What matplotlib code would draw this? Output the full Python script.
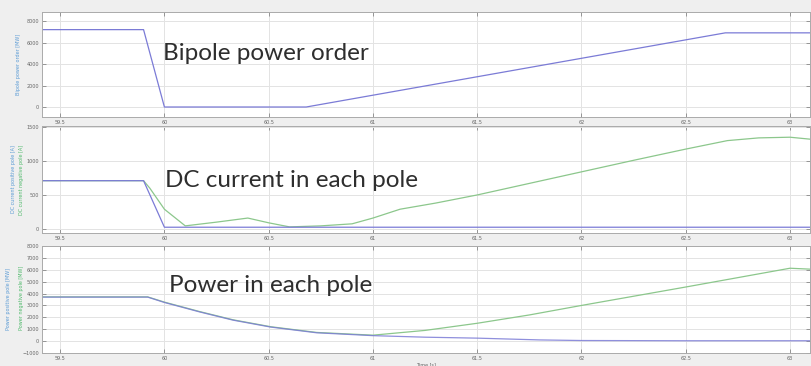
import numpy as np
import matplotlib.pyplot as plt

# --- data ---
order_t = [59.41, 59.90, 60.00, 60.68, 62.69, 63.10]
order_mw = [7200, 7200, 0, 0, 6900, 6900]

ipos_t = [59.41, 59.90, 60.00, 63.10]
ipos_a = [710, 710, 25, 25]
ineg_t = [59.41, 59.90, 59.93, 60.00, 60.10, 60.25, 60.40, 60.50, 60.60, 60.75,
          60.90, 61.00, 61.13, 61.30, 61.50, 61.75, 62.00, 62.25, 62.50, 62.70,
          62.85, 63.00, 63.10]
ineg_a = [710, 710, 600, 290, 45, 100, 160, 90, 30, 45,
          75, 160, 290, 380, 500, 670, 840, 1010, 1175, 1300,
          1340, 1350, 1320]

ppos_t = [59.41, 59.92, 60.00, 60.17, 60.33, 60.51, 60.73, 61.00, 61.25, 61.50,
          61.80, 62.00, 62.50, 63.10]
ppos_mw = [3700, 3700, 3250, 2450, 1760, 1180, 700, 460, 330, 250,
           100, 50, 30, 30]
pneg_t = [59.41, 59.92, 60.00, 60.17, 60.33, 60.51, 60.73, 61.00, 61.25, 61.50,
          61.75, 62.00, 62.50, 63.00, 63.10]
pneg_mw = [3720, 3720, 3280, 2480, 1790, 1210, 730, 500, 900, 1500,
           2200, 3000, 4550, 6130, 6050]

xticks = [59.5, 60, 60.5, 61, 61.5, 62, 62.5, 63]
xticklabels = ['59.5', '60', '60.5', '61', '61.5', '62', '62.5', '63']

BLUE = '#7b7bd6'
GREEN = '#8cc78c'
LBL_BLUE = '#5b9bd5'
LBL_GREEN = '#4fb96b'
TXT = '#2e2e2e'
BIG = 17.5

fig = plt.figure(figsize=(8.11, 3.66), dpi=100, facecolor='#efefef')

boxes = [
    [42 / 811, (366 - 117) / 366, 768 / 811, 105 / 366],
    [42 / 811, (366 - 233) / 366, 768 / 811, 107 / 366],
    [42 / 811, (366 - 353) / 366, 768 / 811, 107 / 366],
]
axes = [fig.add_axes(b) for b in boxes]

for ax in axes:
    ax.set_facecolor('white')
    ax.set_xlim(59.413, 63.096)
    ax.set_xticks(xticks)
    ax.set_xticklabels(xticklabels)
    ax.grid(True, color='#e3e3e3', linewidth=0.7)
    ax.tick_params(direction='in', length=3, width=0.6, labelsize=3.5,
                   colors='#888888', labelcolor='#666666', pad=2,
                   top=True, right=True)
    for s in ax.spines.values():
        s.set_color('#aaaaaa')
        s.set_linewidth(0.7)
    ax.set_axisbelow(True)

ax1, ax2, ax3 = axes

# panel 1: power order
ax1.plot(order_t, order_mw, color=BLUE, lw=0.9)
ax1.set_ylim(-930, 8840)
ax1.set_yticks([0, 2000, 4000, 6000, 8000])
ax1.text(59.995, 0.6, 'Bipole power order', transform=ax1.get_xaxis_transform(),
         fontsize=BIG, family='Lato', color=TXT, va='center', ha='left')
ax1.set_ylabel('Bipole power order [MW]', fontsize=3.5, color=LBL_BLUE, labelpad=4)

# panel 2: DC currents
ax2.plot(ineg_t, ineg_a, color=GREEN, lw=0.9)
ax2.plot(ipos_t, ipos_a, color=BLUE, lw=0.9)
ax2.set_ylim(-60, 1515)
ax2.set_yticks([0, 500, 1000, 1500])
ax2.text(60.005, 0.495, 'DC current in each pole', transform=ax2.get_xaxis_transform(),
         fontsize=BIG, family='Lato', color=TXT, va='center', ha='left')
ax2.set_ylabel('DC current positive pole [A]', fontsize=3.5, color=LBL_BLUE, labelpad=8)
fig.text(22 / 811, (366 - 180) / 366, 'DC current negative pole [A]', rotation=90,
         fontsize=3.5, color=LBL_GREEN, ha='center', va='center')

# panel 3: pole powers
ax3.plot(pneg_t, pneg_mw, color=GREEN, lw=0.9)
ax3.plot(ppos_t, ppos_mw, color=BLUE, lw=0.9, alpha=0.85)
ax3.set_ylim(-1000, 8000)
ax3.set_yticks(np.arange(-1000, 8001, 1000))
ax3.text(60.02, 0.635, 'Power in each pole', transform=ax3.get_xaxis_transform(),
         fontsize=BIG, family='Lato', color=TXT, va='center', ha='left')
ax3.set_ylabel('Power positive pole [MW]', fontsize=3.5, color=LBL_BLUE, labelpad=8)
fig.text(22 / 811, (366 - 298) / 366, 'Power negative pole [MW]', rotation=90,
         fontsize=3.5, color=LBL_GREEN, ha='center', va='center')
ax3.set_xlabel('Time [s]', fontsize=3.5, color='#666666', labelpad=1)

fig.savefig('out.png', dpi=100, facecolor=fig.get_facecolor())
